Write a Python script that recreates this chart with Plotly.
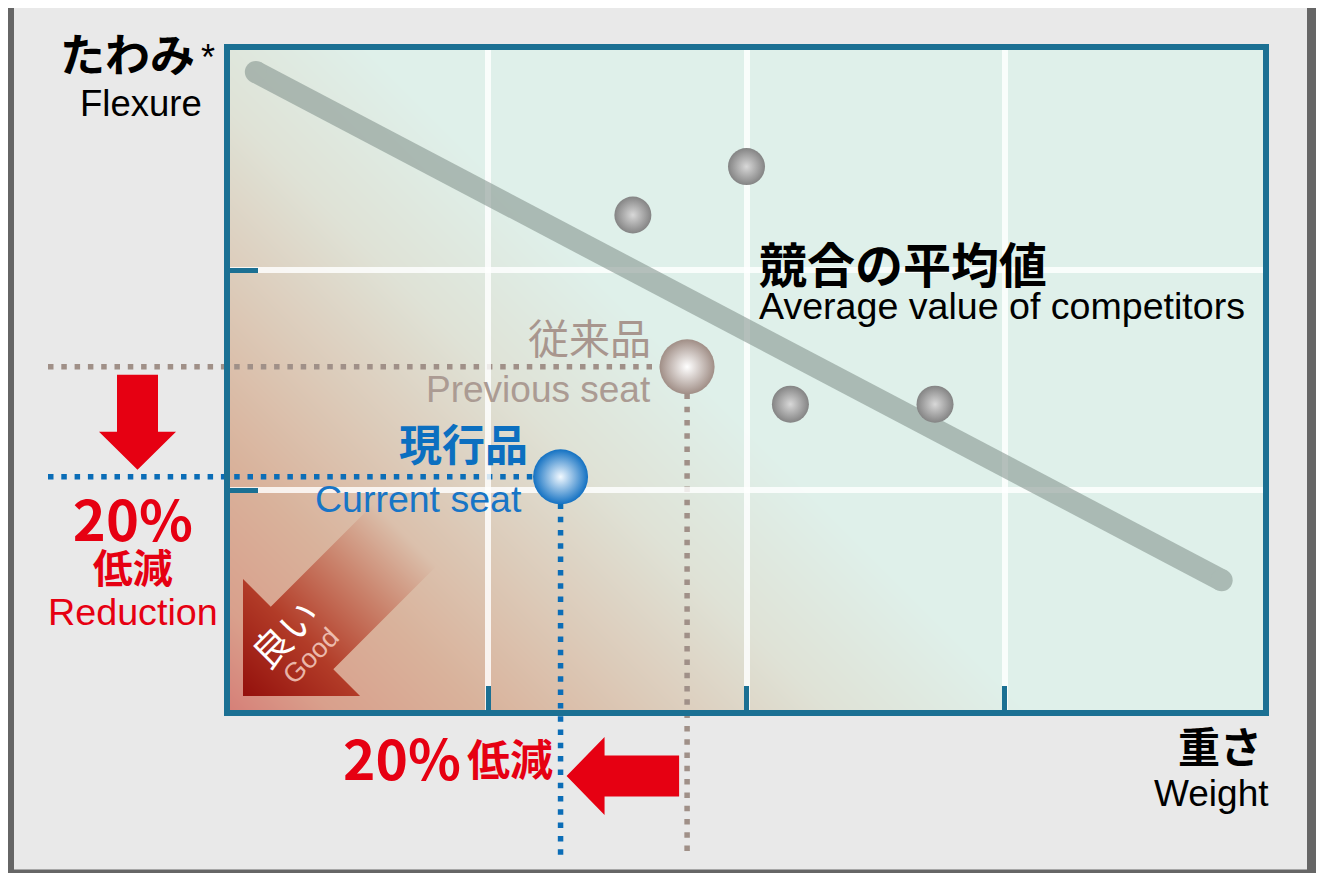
import base64
import struct
import zlib

import numpy as np
import plotly.graph_objects as go

# ---------------- data ----------------
competitor_weight = [1.56, 2.00, 2.17, 2.73]
competitor_flexure = [2.25, 2.47, 1.39, 1.39]
previous_weight = [1.77]
previous_flexure = [1.56]
current_weight = [1.28]
current_flexure = [1.06]
trend_weight = [0.10, 3.84]
trend_flexure = [2.90, 0.59]
x_ticks = [1, 2, 3]
y_ticks = [1, 2]
X_RANGE = [0, 4]
Y_RANGE = [0, 3]

# ---------------- layout geometry (page pixels; the page has an 8px body margin) ----------------
OFF = 8
W, H = 1329 - OFF, 873 - OFF
PL, PT, PRt, PBt = 230, 50, 1263, 710          # plot area in page pixels
PW = PRt - PL
PH = PBt - PT
L, T = PL - OFF, PT - OFF
R, B = W - (PRt - OFF), H - (PBt - OFF)

RED = "#e60012"
FRAME = "#1b7093"
JP = "Noto Sans CJK JP"
EN = "Liberation Sans, Arial, sans-serif"


def px_x(v):
    return PL + (v - X_RANGE[0]) / (X_RANGE[1] - X_RANGE[0]) * PW


def px_y(v):
    return PT + PH - (v - Y_RANGE[0]) / (Y_RANGE[1] - Y_RANGE[0]) * PH


def XP(px):
    return (px - PL) / PW


def YP(py):
    return (PBt - py) / PH


# ---------------- background gradient + "good" arrow image ----------------
def png_data_uri(rgb):
    h, w, _ = rgb.shape
    raw = b"".join(b"\x00" + rgb[i].tobytes() for i in range(h))

    def chunk(tag, data):
        c = struct.pack(">I", len(data)) + tag + data
        return c + struct.pack(">I", zlib.crc32(tag + data) & 0xFFFFFFFF)

    png = (b"\x89PNG\r\n\x1a\n"
           + chunk(b"IHDR", struct.pack(">IIBBBBB", w, h, 8, 2, 0, 0, 0))
           + chunk(b"IDAT", zlib.compress(raw, 9))
           + chunk(b"IEND", b""))
    return "data:image/png;base64," + base64.b64encode(png).decode()


jj, ii = np.meshgrid(np.arange(PW), np.arange(PH))
lx = jj + 0.5
ly = PH - (ii + 0.5)
u = lx + ly
stops = [0, 100, 250, 420, 600, 800]
bg_r = [214, 217, 217, 220, 223, 223]
bg_g = [128, 160, 178, 202, 226, 240]
bg_b = [120, 140, 155, 184, 214, 234]
img = np.stack([np.interp(u, stops, c) for c in (bg_r, bg_g, bg_b)], -1)


def inside_arrow(ax, ay):
    s = ax + ay
    d = ax - ay
    head = (ax >= 13) & (ay >= 14) & (s <= 144)
    shaft = (s > 144) & (np.abs(d) <= 62.5) & (s <= 350)
    return head | shaft


cov = np.zeros(lx.shape)
for oy in (1 / 6, 0.5, 5 / 6):
    for ox in (1 / 6, 0.5, 5 / 6):
        cov += inside_arrow(jj + ox, PH - (ii + oy))
cov /= 9.0
s_ar = lx + ly
alpha = np.clip((350 - s_ar) / 206.0, 0, 1) * cov
arrow_col = np.stack([np.interp(s_ar, [27, 144, 350], c)
                      for c in ([148, 178, 190], [16, 60, 90], [12, 40, 65])], -1)
img = img * (1 - alpha[..., None]) + arrow_col * alpha[..., None]
bg_uri = png_data_uri(np.clip(img + 0.5, 0, 255).astype(np.uint8))

# ---------------- figure ----------------
fig = go.Figure()

fig.add_trace(go.Scatter(
    x=trend_weight, y=trend_flexure, mode="lines+markers",
    line=dict(color="#8a9a94", width=22),
    marker=dict(size=22, color="#8a9a94", line=dict(width=0)),
    opacity=0.62, hoverinfo="skip", showlegend=False))

fig.add_trace(go.Scatter(
    x=competitor_weight, y=competitor_flexure, mode="markers",
    marker=dict(size=37, color="#848484", line=dict(width=0),
                gradient=dict(type="radial", color="#d8d8d8")),
    hoverinfo="skip", showlegend=False))

fig.add_trace(go.Scatter(
    x=previous_weight, y=previous_flexure, mode="markers",
    marker=dict(size=55, color="#a08e86", line=dict(width=0),
                gradient=dict(type="radial", color="#ffffff")),
    hoverinfo="skip", showlegend=False))

fig.add_trace(go.Scatter(
    x=current_weight, y=current_flexure, mode="markers",
    marker=dict(size=55, color="#1371c2", line=dict(width=0),
                gradient=dict(type="radial", color="#f2f9ff")),
    hoverinfo="skip", showlegend=False))

shapes = []
# white strip at the right and the outer grey frame
shapes.append(dict(type="rect", xref="paper", yref="paper", layer="below",
                   x0=XP(1316), x1=XP(1345), y0=YP(890), y1=YP(-20),
                   fillcolor="white", line=dict(width=0)))
shapes.append(dict(type="rect", xref="paper", yref="paper", layer="below",
                   x0=XP(9.5), x1=XP(1311.5), y0=YP(874), y1=YP(-1.5),
                   fillcolor="rgba(0,0,0,0)", line=dict(color="#666666", width=9)))

# dotted guide lines from the two seats
DOT = "5.5px,7.8px"
for xs, ys, col in ((previous_weight, previous_flexure, "#a09088"),
                    (current_weight, current_flexure, "#0b6db7")):
    cx, cy = px_x(xs[0]), px_y(ys[0])
    shapes.append(dict(type="line", xref="paper", yref="paper", layer="below",
                       x0=XP(48), x1=XP(cx), y0=YP(cy), y1=YP(cy),
                       line=dict(color=col, width=5.5, dash=DOT)))
    shapes.append(dict(type="line", xref="paper", yref="paper", layer="below",
                       x0=XP(cx), x1=XP(cx), y0=YP(cy), y1=YP(855),
                       line=dict(color=col, width=5.5, dash=DOT)))


def poly(points):
    path = "M " + " L ".join(f"{XP(x):.5f},{YP(y):.5f}" for x, y in points) + " Z"
    return dict(type="path", xref="paper", yref="paper", layer="above",
                path=path, fillcolor=RED, line=dict(width=0))


# red down arrow (flexure reduction)
top = px_y(previous_flexure[0]) + 8
tip = px_y(current_flexure[0]) - 7
base = tip - 38
cxa = 137.5
shapes.append(poly([(cxa - 20.5, top), (cxa + 20.5, top), (cxa + 20.5, base),
                    (cxa + 38.5, base), (cxa, tip), (cxa - 38.5, base),
                    (cxa - 20.5, base)]))
# red left arrow (weight reduction)
tipx = px_x(current_weight[0]) + 6
tail = px_x(previous_weight[0]) - 8
basex = tipx + 38
cya = 776
shapes.append(poly([(tail, cya - 20.5), (tail, cya + 20.5), (basex, cya + 20.5),
                    (basex, cya + 39), (tipx, cya), (basex, cya - 39),
                    (basex, cya - 20.5)]))

anns = []


def ann(text, x, y, size, color, family, xanchor="center", yanchor="middle",
        angle=0, align="center"):
    anns.append(dict(text=text, x=XP(x), y=YP(y), xref="paper", yref="paper",
                     showarrow=False, xanchor=xanchor, yanchor=yanchor, align=align,
                     textangle=angle, font=dict(size=size, color=color, family=family)))


ENSPAN = "font-family:Liberation Sans, Arial, sans-serif;font-weight:normal;"

ann("<b>たわみ</b>", 197, 52, 45, "#000000", JP, xanchor="right")
ann("*", 199, 58, 36, "#000000", EN, xanchor="left")
ann("Flexure", 204, 103, 36.5, "#000000", EN, xanchor="right")
ann("<b>重さ</b>", 1264, 744, 42, "#000000", JP, xanchor="right")
ann("Weight", 1271, 793, 37, "#000000", EN, xanchor="right")
ann("<b><span style='font-size:48px'>競合の平均値</span></b><br>"
    f"<span style='{ENSPAN}font-size:37.6px'>Average value of competitors</span>",
    757, 276.5, 28, "#000000", JP, xanchor="left", align="left")
ann("従来品", 653, 336, 41, "#a8968e", JP, xanchor="right")
ann("Previous seat", 653, 389, 37, "#ab9b93", EN, xanchor="right")
ann("<b>現行品</b>", 530, 442, 43, "#0b6fc0", JP, xanchor="right")
ann("Current seat", 524, 499, 37.5, "#1775c6", EN, xanchor="right")
ann("<b><span style='font-size:56px'>20%</span><br>"
    "<span style='font-size:40px'>低減</span></b><br>"
    f"<span style='{ENSPAN}font-size:37.7px'>Reduction</span>",
    133, 554, 32.2, RED, JP)
ann("<b>20%</b>", 463, 756, 55, RED, JP, xanchor="right")
ann("<b>低減</b>", 465, 757, 43, RED, JP, xanchor="left")
ann("良い", 283, 632, 38, "#ffffff", JP, angle=-45)
ann("Good", 311, 656, 27, "rgba(255,225,215,0.75)", EN, angle=-45)

axis_common = dict(showgrid=True, gridcolor="rgba(255,255,255,0.82)", gridwidth=5.5,
                   zeroline=False, showline=True, linecolor=FRAME, linewidth=6,
                   mirror=True, ticks="inside", tickwidth=5, tickcolor=FRAME,
                   showticklabels=False, fixedrange=True)

fig.update_layout(
    width=W, height=H,
    margin=dict(l=L, r=R, t=T, b=B, pad=0),
    paper_bgcolor="#e9e9e9", plot_bgcolor="#dfeee8",
    xaxis=dict(range=X_RANGE, tickvals=x_ticks, ticklen=24, **axis_common),
    yaxis=dict(range=Y_RANGE, tickvals=y_ticks, ticklen=28, **axis_common),
    images=[dict(source=bg_uri, xref="paper", yref="paper", x=0, y=1,
                 sizex=1, sizey=1, xanchor="left", yanchor="top",
                 sizing="stretch", layer="below")],
    shapes=shapes, annotations=anns, showlegend=False)

fig.write_html("out.html")
